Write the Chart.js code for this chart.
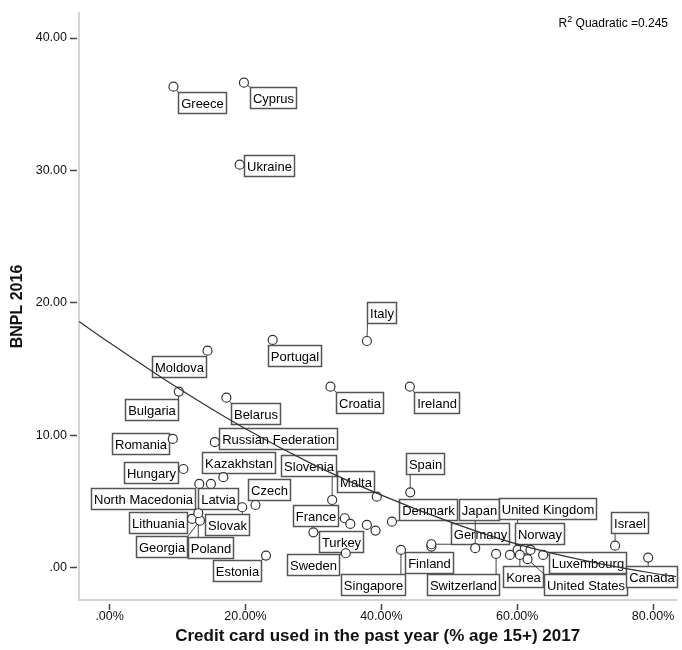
<!DOCTYPE html>
<html lang="en">
<head>
    <meta charset="UTF-8">
    <title>BNPL 2016 x Credit card 2017</title>
    <script src="https://cdn.jsdelivr.net/npm/chart.js"></script>
    <style>
        body { margin: 0; background: #fff; }
        canvas { display: block; }
    </style>
</head>
<body>
    <canvas id="grafico" width="682" height="650"></canvas>
    <script>
        // paises ('' = ponto sem etiqueta)
        var countries = [
            'Greece', 'Cyprus', 'Ukraine', 'Italy', 'Portugal', 'Moldova', 'Bulgaria', 'Belarus',
            'Croatia', 'Ireland', 'Romania', 'Russian Federation', 'Hungary', 'Kazakhstan',
            'Slovenia', 'Malta', 'Spain', 'North Macedonia', 'Latvia', 'Czech', 'Lithuania',
            'Slovak', 'Georgia', 'Poland', 'Estonia', 'France', 'Turkey', 'Sweden', 'Denmark',
            'Singapore', 'Finland', 'Germany', 'Japan', 'United Kingdom', 'Norway', 'Switzerland',
            'Korea', 'United States', 'Luxembourg', 'Israel', 'Canada',
            '', '', '', '', ''
        ];
        // Credit card used in the past year (% age 15+) 2017
        var creditCard = [
            9.40, 19.77, 19.14, 37.87, 24.00, 14.41, 10.18, 17.18,
            32.51, 44.19, 9.30, 15.49, 10.86, 16.74,
            32.76, 39.33, 44.25, 13.20, 14.91, 21.47, 12.13,
            19.52, 13.30, 13.05, 23.02, 34.61, 29.99, 34.76, 41.56,
            42.88, 47.36, 47.36, 53.82, 60.06, 61.12, 56.89,
            60.39, 61.52, 63.81, 74.41, 79.28,
            35.43, 37.87, 39.14, 58.93, 61.96
        ];
        // BNPL 2016
        var bnpl = [
            36.33, 36.63, 30.44, 17.13, 17.21, 16.40, 13.31, 12.85,
            13.68, 13.68, 9.74, 9.49, 7.47, 6.85,
            5.13, 5.38, 5.71, 6.34, 6.34, 4.75, 3.70,
            4.58, 3.57, 4.13, 0.93, 3.75, 2.69, 1.11, 3.49,
            1.36, 1.61, 1.79, 1.49, 1.36, 1.43, 1.06,
            0.98, 0.66, 0.98, 1.68, 0.78,
            3.32, 3.25, 2.82, 0.98, 1.36
        ];
        // curva quadratica (R2 = 0.245)
        var fitX = [-4.5, 0, 10, 20, 30, 40, 50, 60, 70, 80, 83.4];
        var fitY = [18.6, 17.0, 13.6, 10.5, 7.8, 5.5, 3.5, 1.8, 0.55, -0.4, -0.65];

        var xTickValues = [0, 20, 40, 60, 80];
        var yTickValues = [0, 10, 20, 30, 40];
        var r2Text = ' Quadratic =0.245';

        // deslocamento (px) do centro de cada caixa em relacao ao ponto
        var labelOffsets = [
            [29, 16], [29, 15], [29, 1], [15, -29], [22, 15.5], [-28.6, 15.5], [-27.6, 17.5], [29.4, 16],
            [28.7, 16], [26.7, 16], [-32.5, 4.3], [63.6, -3.5], [-32.3, 3.2], [14.9, -14.5],
            [-24, -34.5], [-21.8, -15.5], [14.7, -28.6], [-56.2, 14.8], [7, 15], [13.8, -15.5], [-34.4, 4],
            [-15.5, 16.9], [-38.7, 25.5], [12, 34.5], [-29, 15.1], [-29.2, -2.3], [27.8, 8.9], [-33, 10.9], [36.5, -12.5],
            [-27.5, 34.7], [-2.5, 16.1], [48.5, -11], [3.4, -38.3], [29.8, -41.2], [14.5, -15.3], [-33.1, 30.7],
            [2.9, 21.7], [57.8, 25.7], [44.3, 7.5], [14.7, -23.5], [3.5, 18.5],
            [0, 0], [0, 0], [0, 0], [0, 0], [0, 0]
        ];

        var fonte = '"Liberation Sans", Arial, sans-serif';
        Chart.defaults.font.family = fonte;
        Chart.defaults.color = '#111';

        function fmt(v) {
            var s = v.toFixed(2);
            return s.indexOf('0.') === 0 ? s.substring(1) : s;
        }

        // caixas com o nome do pais + linhas de ligacao, e o texto do R2
        var etiquetas = {
            id: 'etiquetas',
            beforeDatasetsDraw: function(chart) {
                var ctx = chart.ctx;
                var meta = chart.getDatasetMeta(1);
                ctx.save();
                ctx.font = '13px ' + fonte;
                ctx.textAlign = 'center';
                ctx.textBaseline = 'middle';
                meta.data.forEach(function(pt, i) {
                    var nome = countries[i];
                    if (!nome) return;
                    var w = Math.round(ctx.measureText(nome).width) + 5, h = 21;
                    var cx = pt.x + labelOffsets[i][0], cy = pt.y + labelOffsets[i][1];
                    var x0 = Math.round(cx - w / 2) + 0.5, y0 = Math.round(cy - h / 2) + 0.5;
                    var nx = Math.max(x0, Math.min(pt.x, x0 + w));
                    var ny = Math.max(y0, Math.min(pt.y, y0 + h));
                    var dx = nx - pt.x, dy = ny - pt.y, d = Math.sqrt(dx * dx + dy * dy);
                    if (d > 6) {
                        ctx.beginPath();
                        ctx.strokeStyle = '#444';
                        ctx.lineWidth = 1;
                        ctx.moveTo(pt.x + dx / d * 4.5, pt.y + dy / d * 4.5);
                        ctx.lineTo(nx, ny);
                        ctx.stroke();
                    }
                    ctx.fillStyle = '#fff';
                    ctx.fillRect(x0, y0, w, h);
                    ctx.strokeStyle = '#555';
                    ctx.lineWidth = 1.5;
                    ctx.strokeRect(x0, y0, w, h);
                    ctx.fillStyle = '#000';
                    ctx.fillText(nome, x0 + w / 2, y0 + h / 2 + 1);
                });
                ctx.restore();
            },
            afterDraw: function(chart) {
                var ctx = chart.ctx;
                ctx.save();
                ctx.fillStyle = '#000';
                ctx.textBaseline = 'alphabetic';
                ctx.textAlign = 'left';
                ctx.font = '12px ' + fonte;
                var wRest = ctx.measureText(r2Text).width;
                var wR = ctx.measureText('R').width;
                ctx.font = '9px ' + fonte;
                var w2 = ctx.measureText('2').width;
                var xFim = 668, base = 27;
                var x = xFim - wRest - w2 - wR;
                ctx.font = '12px ' + fonte;
                ctx.fillText('R', x, base);
                ctx.font = '9px ' + fonte;
                ctx.fillText('2', x + wR, base - 5);
                ctx.font = '12px ' + fonte;
                ctx.fillText(r2Text, x + wR + w2, base);
                ctx.restore();
            }
        };

        var pontos = creditCard.map(function(v, i) { return { x: v, y: bnpl[i] }; });
        var curva = fitX.map(function(v, i) { return { x: v, y: fitY[i] }; });

        var ctx = document.getElementById('grafico').getContext('2d');
        var grafico = new Chart(ctx, {
            type: 'scatter',
            data: {
                datasets: [{
                    type: 'line',
                    data: curva,
                    borderColor: '#333',
                    borderWidth: 1.2,
                    pointRadius: 0,
                    fill: false,
                    cubicInterpolationMode: 'monotone'
                }, {
                    data: pontos,
                    pointRadius: 4.5,
                    pointBorderWidth: 1.2,
                    borderColor: '#333',
                    backgroundColor: '#fff'
                }]
            },
            options: {
                responsive: false,
                animation: false,
                layout: { padding: { top: 13, right: 1, left: 0, bottom: 0 } },
                plugins: {
                    legend: { display: false },
                    tooltip: { enabled: false }
                },
                scales: {
                    x: {
                        type: 'linear',
                        position: 'bottom',
                        min: -4.51,
                        max: 83.42,
                        afterBuildTicks: function(s) { s.ticks = xTickValues.map(function(v) { return { value: v }; }); },
                        afterFit: function(s) { s.height = 50; },
                        border: { display: true, color: '#d4d4d4', width: 2 },
                        grid: {
                            drawOnChartArea: false,
                            drawTicks: true,
                            tickLength: 10,
                            tickColor: '#444',
                            tickWidth: 1.5,
                            tickBorderDash: [0, 3, 7, 30]
                        },
                        ticks: {
                            padding: -1,
                            font: { size: 12.5 },
                            color: '#111',
                            callback: function(v) { return fmt(v) + '%'; }
                        },
                        title: {
                            display: true,
                            text: 'Credit card used in the past year (% age 15+) 2017',
                            font: { size: 17, weight: 'bold' },
                            color: '#111',
                            padding: { top: 0, bottom: 3 }
                        }
                    },
                    y: {
                        type: 'linear',
                        position: 'left',
                        min: -2.42,
                        max: 41.89,
                        afterBuildTicks: function(s) { s.ticks = yTickValues.map(function(v) { return { value: v }; }); },
                        afterFit: function(s) { s.width = 79; },
                        border: { display: true, color: '#d4d4d4', width: 2 },
                        grid: {
                            drawOnChartArea: false,
                            drawTicks: true,
                            tickLength: 9,
                            tickColor: '#444',
                            tickWidth: 1.5,
                            tickBorderDash: [7, 30]
                        },
                        ticks: {
                            padding: 3,
                            font: { size: 12.5 },
                            color: '#111',
                            callback: function(v) { return fmt(v); }
                        },
                        title: {
                            display: true,
                            text: 'BNPL 2016',
                            font: { size: 16, weight: 'bold' },
                            color: '#111',
                            padding: { top: 8, bottom: 0 }
                        }
                    }
                }
            },
            plugins: [etiquetas]
        });
    </script>
</body>
</html>
